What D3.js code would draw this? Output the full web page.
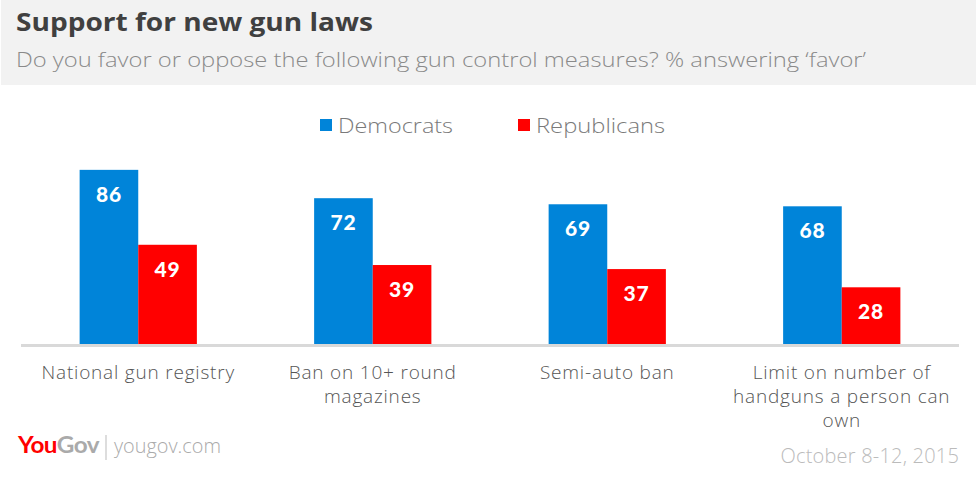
<!DOCTYPE html>
<html>
<head>
<meta charset="utf-8">
<script src="https://cdn.jsdelivr.net/npm/d3@7"></script>
<style>
  body { margin: 0; background: #fff; }
  svg { display: block; font-family: "Open Sans", Lato, sans-serif; }
</style>
</head>
<body>
<div class="chart"></div>
<script>
const categories = [
  ["National gun registry"],
  ["Ban on 10+ round", "magazines"],
  ["Semi-auto ban"],
  ["Limit on number of", "handguns a person can", "own"]
];
const seriesNames = ["Democrats", "Republicans"];
const democrats = [86, 72, 69, 68];
const republicans = [49, 39, 37, 28];
const colors = ["#0084d9", "#ff0000"];

const width = 976, height = 479;

const svg = d3.select(".chart").append("svg")
  .attr("width", width)
  .attr("height", height);

// header band
svg.append("rect")
  .attr("x", 1).attr("y", 0)
  .attr("width", width - 1).attr("height", 85)
  .attr("fill", "#f2f2f2");

svg.append("text")
  .attr("x", 16).attr("y", 31)
  .attr("fill", "#404040")
  .attr("textLength", 357)
  .attr("lengthAdjust", "spacingAndGlyphs")
  .style("font-size", "25px")
  .style("font-weight", 700)
  .text("Support for new gun laws");

svg.append("text")
  .attr("x", 16).attr("y", 67)
  .attr("fill", "#8a8a8a")
  .attr("textLength", 850)
  .attr("lengthAdjust", "spacingAndGlyphs")
  .style("font-size", "20px")
  .style("font-weight", 300)
  .text("Do you favor or oppose the following gun control measures? % answering \u2018favor\u2019");

// legend
let legendPos = [320, 518];
let legendLen = [115, 129];
let legend = svg.selectAll("g.legend")
  .data(seriesNames)
  .enter().append("g")
  .attr("class", "legend");

legend.append("rect")
  .attr("x", (d, i) => legendPos[i])
  .attr("y", 119)
  .attr("width", 12).attr("height", 12)
  .attr("fill", (d, i) => colors[i]);

legend.append("text")
  .attr("x", (d, i) => legendPos[i] + 18)
  .attr("y", 133)
  .attr("fill", "#7a7a7a")
  .attr("textLength", (d, i) => legendLen[i])
  .attr("lengthAdjust", "spacingAndGlyphs")
  .style("font-size", "21px")
  .style("font-weight", 300)
  .text(d => d);

// scales
let x0 = d3.scaleBand()
  .domain(d3.range(categories.length))
  .range([21, 959])
  .paddingInner(0.5)
  .paddingOuter(0.25);

let x1 = d3.scaleBand()
  .domain([0, 1])
  .range([0, x0.bandwidth()]);

let y = d3.scaleLinear()
  .domain([0, 100])
  .range([344, 141.5]);

let rows = democrats.map((d, i) => [d, republicans[i]]);

let groups = svg.selectAll("g.group")
  .data(rows)
  .enter().append("g")
  .attr("class", "group")
  .attr("transform", (d, i) => `translate(${x0(i)},0)`);

groups.selectAll("rect")
  .data(d => d)
  .enter().append("rect")
  .attr("x", (d, i) => x1(i))
  .attr("y", d => y(d))
  .attr("width", x1.bandwidth())
  .attr("height", d => y(0) - y(d))
  .attr("fill", (d, i) => colors[i]);

groups.selectAll("text.value")
  .data(d => d)
  .enter().append("text")
  .attr("class", "value")
  .attr("x", (d, i) => x1(i) + x1.bandwidth() / 2)
  .attr("y", d => y(d) + 32)
  .attr("text-anchor", "middle")
  .attr("fill", "#fff")
  .style("font-family", "Lato, sans-serif")
  .style("font-size", "21px")
  .style("font-weight", 900)
  .style("letter-spacing", "0.8px")
  .text(d => d);

// baseline
svg.append("line")
  .attr("x1", 21).attr("x2", 959)
  .attr("y1", y(0) + 1.5).attr("y2", y(0) + 1.5)
  .attr("stroke", "#d9d9d9")
  .attr("stroke-width", 3);

// category labels
let catLabels = svg.selectAll("text.cat")
  .data(categories)
  .enter().append("text")
  .attr("class", "cat")
  .attr("text-anchor", "middle")
  .attr("fill", "#555")
  .style("font-size", "19px")
  .style("font-weight", 300)
  .style("letter-spacing", "0.8px");

catLabels.selectAll("tspan")
  .data((d, i) => d.map(line => ({line, i})))
  .enter().append("tspan")
  .attr("x", d => x0(d.i) + x0.bandwidth() / 2)
  .attr("y", (d, j) => 379 + j * 24)
  .text(d => d.line);

// footer
let logo = svg.append("text")
  .attr("x", 18).attr("y", 453)
  .attr("textLength", 81)
  .attr("lengthAdjust", "spacingAndGlyphs")
  .style("font-family", "Lato, sans-serif")
  .style("font-size", "22px")
  .style("font-weight", 700)
  .style("letter-spacing", "-0.5px");
logo.append("tspan").attr("fill", "#ff0000").text("You");
logo.append("tspan").attr("fill", "#aaaaaa").text("Gov");

svg.append("line")
  .attr("x1", 106).attr("x2", 106)
  .attr("y1", 435).attr("y2", 460)
  .attr("stroke", "#bbb")
  .attr("stroke-width", 1);

svg.append("text")
  .attr("x", 114).attr("y", 453)
  .attr("fill", "#aaaaaa")
  .attr("textLength", 107)
  .attr("lengthAdjust", "spacingAndGlyphs")
  .style("font-size", "20px")
  .style("font-weight", 300)
  .text("yougov.com");

svg.append("text")
  .attr("x", 959).attr("y", 463)
  .attr("text-anchor", "end")
  .attr("fill", "#bbbbbb")
  .style("font-size", "20px")
  .style("font-weight", 300)
  .style("letter-spacing", "0.2px")
  .text("October 8-12, 2015");
</script>
</body>
</html>
